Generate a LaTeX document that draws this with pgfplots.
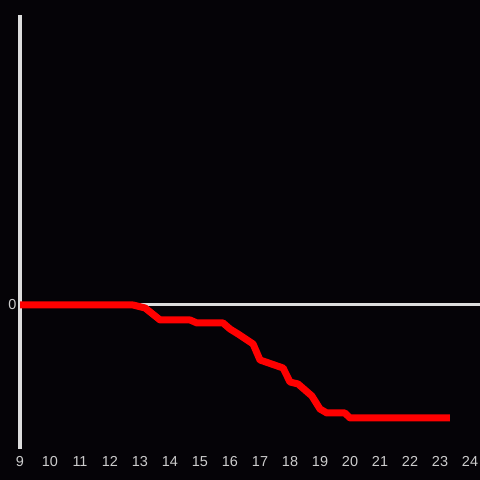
\documentclass[border=0pt]{standalone}
\usepackage{pgfplots}
\pgfplotsset{compat=1.18}
\usepackage{fontspec}
\setmainfont{Liberation Sans}
\definecolor{bg}{HTML}{050307}
\definecolor{axc}{HTML}{DDDDDD}
\definecolor{tickc}{HTML}{CCCCCC}
\begin{document}
\begin{tikzpicture}
\fill[bg] (0,0) rectangle (480bp,480bp);
\begin{axis}[
  at={(20bp,31bp)}, anchor=south west,
  width=460bp, height=434bp, scale only axis,
  xmin=9, xmax=24.3333, ymin=-144, ymax=290,
  axis x line=bottom, axis y line=left,
  x axis line style={draw=none, -},
  y axis line style={draw=axc, line width=3bp, -},
  xtick={9,10,...,24}, ytick={0},
  major tick length=0pt,
  tick style={draw=none},
  ticklabel style={font=\fontsize{14.5}{16}\selectfont, text=tickc},
  /pgf/number format/assume math mode=true,
  xticklabel style={yshift=-4bp},
  yticklabel style={xshift=0bp},
  clip=false,
]
\addplot[axc, line width=3bp, forget plot] coordinates {(9,0) (24.3333,0)};
\addplot[red, line width=7bp, line join=round, line cap=butt] coordinates {
(9,0) (12.77,0) (13.17,-3) (13.67,-15) (14.67,-15) (14.9,-18) (15.77,-18)
(16,-24) (16.27,-29) (16.77,-39) (17,-55) (17.77,-63) (18,-77) (18.27,-79)
(18.73,-91) (19,-104) (19.23,-108) (19.83,-108) (20,-113) (23.33,-113)
};
\end{axis}
\pgfresetboundingbox
\useasboundingbox (0,0) rectangle (480bp,480bp);
\end{tikzpicture}
\end{document}
